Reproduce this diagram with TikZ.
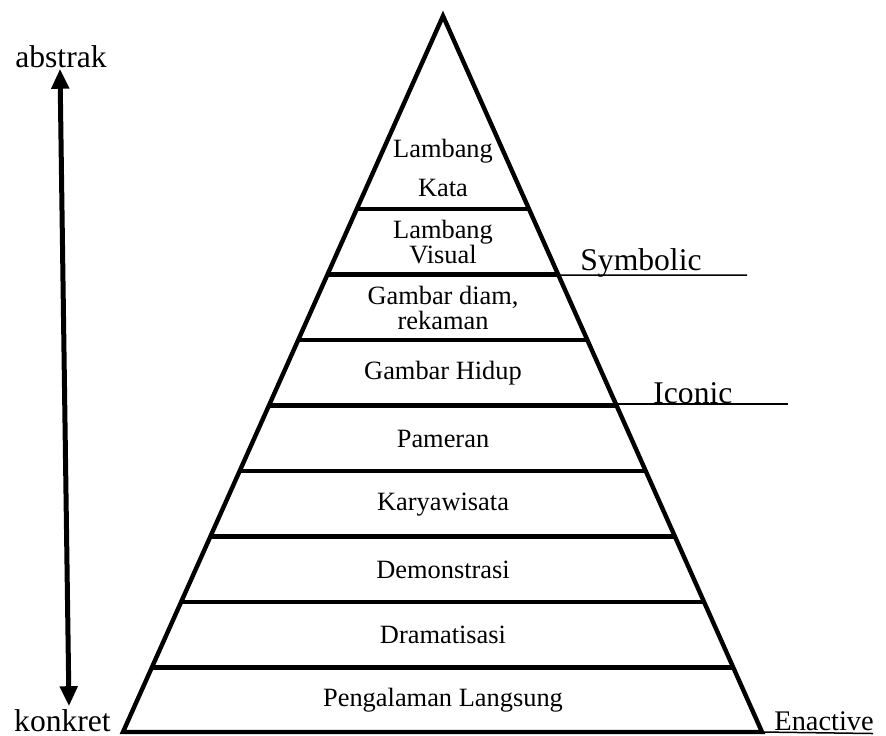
\documentclass[tikz,border=0pt]{standalone}
\usepackage{fontspec}
\setmainfont{Liberation Serif}
\usepackage{tikz}
\usetikzlibrary{arrows.meta, positioning, calc}

\newcommand{\lblsize}{\fontsize{13.2}{12.5}\selectfont}
\newcommand{\bigsize}{\fontsize{15.8}{18}\selectfont}

\begin{document}
\begin{tikzpicture}[x=0.5pt, y=-0.5pt, >={Triangle[length=10pt, width=8.5pt]},
    edge/.style={line width=2.2pt, line join=miter},
    band/.style={line width=2.2pt},
    thinrule/.style={line width=0.75pt},
    level/.style={font=\lblsize, align=center, inner sep=0pt},
    side/.style={font=\bigsize, inner sep=0pt},
    updown/.style={<->, line width=2.5pt}]
  \useasboundingbox (0,0) rectangle (886,735);
  % pyramid
  \coordinate (apex) at (443,16);
  \coordinate (bl) at (123,732);
  \coordinate (br) at (762,732);
  \draw[edge] (apex) -- (bl) -- (br) -- cycle;
  \foreach \k in {0,...,7}{
    \pgfmathsetmacro\t{(193+65.5*\k)/716}
    \draw[band] ($(apex)!\t!(bl)$) -- ($(apex)!\t!(br)$);
  }
  % levels, top to bottom
  \node[level, font=\fontsize{13.2}{19.5}\selectfont] (kata) at (443,167.5) {Lambang\\Kata};
  \node[level] (visual) at (443,242) {Lambang\\Visual};
  \node[level] (diam) at (443,307.5) {Gambar diam,\\rekaman};
  \node[level] (hidup) at (443,373) {Gambar Hidup};
  \node[level] (pameran) at (443,439) {Pameran};
  \node[level] (wisata) at (443,504.5) {Karyawisata};
  \node[level] (demo) at (443,570) {Demonstrasi};
  \node[level] (drama) at (443,635) {Dramatisasi};
  \node[level] (langsung) at (443,700.5) {Pengalaman Langsung};
  % Bruner stages
  \node[side, anchor=base west] (symbolic) at (580,270) {Symbolic};
  \node[side, anchor=base west] (iconic) at (653,403) {Iconic};
  \node[side, anchor=base west, font=\fontsize{14.2}{16}\selectfont] (enactive) at (774,730) {Enactive};
  \coordinate (symL) at ($(apex)!{259/716}!(br)$);
  \coordinate (symR) at (747,275);
  \coordinate (icoL) at (488,404);
  \coordinate (icoR) at (788,404);
  \coordinate (enaR) at (873,733.5);
  \draw[thinrule] (symL) -- (symR);
  \draw[thinrule] (icoL) -- (icoR);
  \draw[thinrule] (br) -- (enaR);
  % abstrak - konkret
  \node[side, anchor=base] (abstrak) at (61,67) {abstrak};
  \node[side, anchor=base] (konkret) at (62.5,731) {konkret};
  \draw[updown] ([xshift=-0.5pt, yshift=-0.5pt]abstrak.south) -- ([xshift=3.25pt, yshift=1.25pt]konkret.north);
\end{tikzpicture}
\end{document}
